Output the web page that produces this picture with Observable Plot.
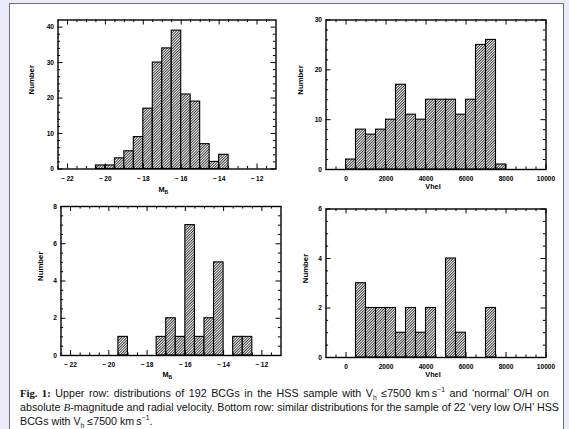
<!DOCTYPE html>
<html><head><meta charset="utf-8">
<script src="https://cdn.jsdelivr.net/npm/d3@7"></script>
<script src="https://cdn.jsdelivr.net/npm/@observablehq/plot@0.6"></script>
<style>
html,body{margin:0;padding:0;}
body{width:569px;height:429px;background:#ebebfa;position:relative;overflow:hidden;font-family:"Liberation Sans",Arial,sans-serif;}
#box{position:absolute;left:9px;top:3px;width:553px;height:440px;background:#fff;border:1.6px solid #6e6e78;}
.panel{position:absolute;}
.panel svg{overflow:visible;background:transparent;}
#caption{position:absolute;left:20px;top:386px;width:529px;font-size:10.7px;line-height:14px;color:#111;}
.ln{text-align:justify;text-align-last:justify;white-space:nowrap;}
.ln3{text-align:left;white-space:nowrap;}
#caption b{font-family:"Liberation Serif","DejaVu Serif",serif;font-size:10.7px;}
#caption i{font-family:"Liberation Serif",serif;font-size:11px;}
sub,sup{font-size:6.8px;line-height:0;}
</style></head>
<body>
<svg width="0" height="0" style="position:absolute"><defs>
<pattern id="hatch" patternUnits="userSpaceOnUse" width="1.9" height="10" patternTransform="rotate(45)">
<rect width="1.9" height="10" fill="#fff"/><rect x="0" y="0" width="0.8" height="10" fill="#111"/>
</pattern></defs></svg>
<div id="box"></div>
<div id="tl" class="panel" style="left:0;top:0"></div>
<div id="tr" class="panel" style="left:285px;top:0"></div>
<div id="bl" class="panel" style="left:0;top:195px"></div>
<div id="br" class="panel" style="left:285px;top:195px"></div>
<div id="caption">
<div class="ln"><b>Fig. 1:</b> Upper row: distributions of 192 BCGs in the HSS sample with V<sub>h</sub> ≤7500 km&thinsp;s<sup>−1</sup> and ‘normal’ O/H on</div>
<div class="ln">absolute <i>B</i>-magnitude and radial velocity. Bottom row: similar distributions for the sample of 22 ‘very low O/H’ HSS</div>
<div class="ln3">BCGs with V<sub>h</sub> ≤7500 km&thinsp;s<sup>−1</sup>.</div>
</div>
<script>
// ---- Data ----
// Upper row: 192 BCGs, 'normal' O/H
const mbStartsTop = [-20.5, -20, -19.5, -19, -18.5, -18, -17.5, -17, -16.5, -16, -15.5, -15, -14.5, -14];
const mbCountsTop = [1, 1, 3, 5, 9, 17, 30, 34, 39, 21, 19, 7, 2, 4];
const vStartsTop = [0, 500, 1000, 1500, 2000, 2500, 3000, 3500, 4000, 4500, 5000, 5500, 6000, 6500, 7000, 7500];
const vCountsTop = [2, 8, 7, 8, 10, 17, 11, 10, 14, 14, 14, 11, 14, 25, 26, 1];
// Bottom row: 22 'very low O/H' BCGs
const mbStartsBot = [-19.5, -17.5, -17, -16.5, -16, -15.5, -15, -14.5, -13.5, -13];
const mbCountsBot = [1, 1, 2, 1, 7, 1, 2, 5, 1, 1];
const vStartsBot = [500, 1000, 1500, 2000, 2500, 3000, 3500, 4000, 5000, 5500, 7000];
const vCountsBot = [3, 2, 2, 2, 1, 2, 1, 2, 4, 1, 2];
const mbBinWidth = 0.5;
const vBinWidth = 500;
// tick labels
const mbTicks = [-22, -20, -18, -16, -14, -12];
const vTicks = [0, 2000, 4000, 6000, 8000, 10000];
const yTicksTop1 = [0, 10, 20, 30, 40];
const yTicksTop2 = [0, 10, 20, 30];
const yTicksBot1 = [0, 2, 4, 6, 8];
const yTicksBot2 = [0, 2, 4, 6];

const fmt = d => d < 0 ? "\u2212\u2009" + Math.abs(d) : String(d);
const FONT = '"Liberation Sans", Arial, sans-serif';

function panel(cfg) {
  const iw = cfg.width - cfg.ml - cfg.mr;
  const ih = cfg.height - cfg.mt - cfg.mb;
  const idx = cfg.starts.map((d, i) => i);
  const maj = 5, mnr = 2.6;
  const marks = [
    Plot.rectY(idx, {x1: i => cfg.starts[i], x2: i => cfg.starts[i] + cfg.binW, y1: 0, y2: i => cfg.counts[i],
      fill: "url(#hatch)", stroke: "#000", strokeWidth: 1.1}),
    Plot.ruleX(cfg.xMajor, {insetTop: ih - maj, stroke: "#000", strokeWidth: 1}),
    Plot.ruleX(cfg.xMajor, {insetBottom: ih - maj, stroke: "#000", strokeWidth: 1}),
    Plot.ruleX(cfg.xMinor, {insetTop: ih - mnr, stroke: "#000", strokeWidth: 1}),
    Plot.ruleX(cfg.xMinor, {insetBottom: ih - mnr, stroke: "#000", strokeWidth: 1}),
    Plot.ruleY(cfg.yMajor, {insetRight: iw - maj, stroke: "#000", strokeWidth: 1}),
    Plot.ruleY(cfg.yMajor, {insetLeft: iw - maj, stroke: "#000", strokeWidth: 1}),
    Plot.ruleY(cfg.yMinor, {insetRight: iw - mnr, stroke: "#000", strokeWidth: 1}),
    Plot.ruleY(cfg.yMinor, {insetLeft: iw - mnr, stroke: "#000", strokeWidth: 1}),
    Plot.frame({stroke: "#000", strokeWidth: 1.4}),
    Plot.axisX({ticks: cfg.xMajor, tickSize: 0, tickPadding: cfg.xPad, tickFormat: fmt, label: null, fontSize: 6.6, fontWeight: "bold"}),
    Plot.axisY({ticks: cfg.yMajor, tickSize: 0, tickPadding: 4, tickFormat: fmt, label: null, fontSize: 6.6, fontWeight: "bold"}),
    Plot.text(["Number"], {frameAnchor: "left", dx: cfg.yLabDx, rotate: -90, fontSize: 7.8, fontWeight: "bold"})
  ];
  if (cfg.xLabel === "MB") {
    marks.push(Plot.text(["M"], {frameAnchor: "bottom", dx: cfg.xLabDx - 1.5, dy: cfg.xLabDy, fontSize: 7.3, fontWeight: "bold"}));
    marks.push(Plot.text(["B"], {frameAnchor: "bottom", dx: cfg.xLabDx + 3.2, dy: cfg.xLabDy + 1.6, fontSize: 5, fontWeight: "bold"}));
  } else {
    marks.push(Plot.text([cfg.xLabel], {frameAnchor: "bottom", dx: cfg.xLabDx, dy: cfg.xLabDy, fontSize: 7.3, fontWeight: "bold"}));
  }
  const svg = Plot.plot({
    width: cfg.width, height: cfg.height,
    marginLeft: cfg.ml, marginRight: cfg.mr, marginTop: cfg.mt, marginBottom: cfg.mb,
    x: {domain: cfg.xDomain, label: null},
    y: {domain: cfg.yDomain, label: null},
    style: {fontFamily: FONT, fontWeight: "bold", color: "#000", background: "transparent", overflow: "visible"},
    marks
  });
  document.getElementById(cfg.el).appendChild(svg);
}

panel({el: "tl", width: 285, height: 200, ml: 57.5, mr: 9.5, mt: 19.5, mb: 31.5,
  xDomain: [-22.5, -11], yDomain: [0, 42], starts: mbStartsTop, counts: mbCountsTop, binW: mbBinWidth,
  xMajor: mbTicks, xMinor: d3.range(-22.5, -11, 0.5).filter(d => d % 2 !== 0),
  yMajor: yTicksTop1, yMinor: d3.range(2, 42, 2).filter(d => d % 10 !== 0),
  xPad: 7, yLabDx: -27, xLabel: "MB", xLabDx: -4, xLabDy: 23});
panel({el: "tr", width: 280, height: 200, ml: 40.5, mr: 19.5, mt: 19.5, mb: 31,
  xDomain: [-1000, 10000], yDomain: [0, 30], starts: vStartsTop, counts: vCountsTop, binW: vBinWidth,
  xMajor: vTicks, xMinor: d3.range(-500, 10000, 500).filter(d => d % 2000 !== 0),
  yMajor: yTicksTop2, yMinor: d3.range(2, 30, 2).filter(d => d % 10 !== 0),
  xPad: 7, yLabDx: -25.5, xLabel: "Vhel", xLabDx: -3, xLabDy: 19});
panel({el: "bl", width: 285, height: 190, ml: 60.5, mr: 4.5, mt: 11, mb: 30,
  xDomain: [-22.5, -11], yDomain: [0, 8], starts: mbStartsBot, counts: mbCountsBot, binW: mbBinWidth,
  xMajor: mbTicks, xMinor: d3.range(-22.5, -11, 0.5).filter(d => d % 2 !== 0),
  yMajor: yTicksBot1, yMinor: d3.range(0.5, 8, 0.5).filter(d => d % 2 !== 0),
  xPad: 6.5, yLabDx: -20.5, xLabel: "MB", xLabDx: -4, xLabDy: 21.5});
panel({el: "br", width: 280, height: 190, ml: 40.5, mr: 19.5, mt: 13.5, mb: 28,
  xDomain: [-1000, 10000], yDomain: [0, 6], starts: vStartsBot, counts: vCountsBot, binW: vBinWidth,
  xMajor: vTicks, xMinor: d3.range(-500, 10000, 500).filter(d => d % 2000 !== 0),
  yMajor: yTicksBot2, yMinor: d3.range(0.5, 6, 0.5).filter(d => d % 2 !== 0),
  xPad: 6.5, yLabDx: -20.5, xLabel: "Vhel", xLabDx: -3, xLabDy: 19});
</script>
</body></html>
